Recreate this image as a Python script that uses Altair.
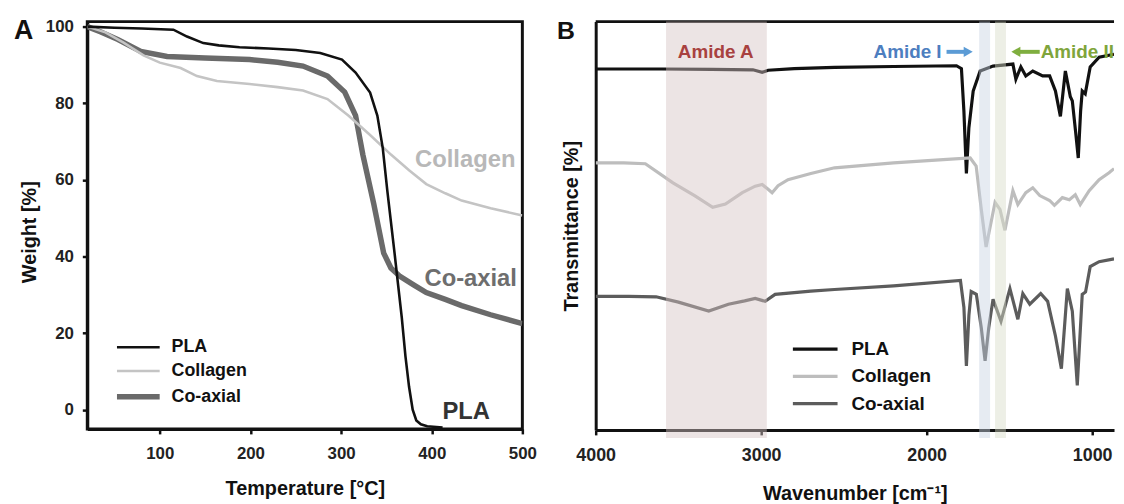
import altair as alt
import pandas as pd

FONT = "Liberation Sans"

# ---------------- Panel A : thermogravimetry ----------------
series = ["PLA", "Collagen", "Co-axial"]

temp_pla = [20, 50, 80, 115, 130, 148, 165, 188, 220, 250, 277, 301, 316, 332, 340, 346, 351, 359, 363,
            367, 371, 375, 379, 383, 388, 395, 412]
w_pla = [100, 99.7, 99.5, 99.2, 97.4, 95.7, 95.1, 94.6, 94.3, 93.9, 93.1, 91.4, 88.0, 82.8, 76.8, 68.3, 57.2,
         40.9, 32.4, 24.0, 14.0, 6.0, 0.0, -2.8, -3.8, -4.3, -4.6]

temp_col = [20, 40, 60, 82, 100, 123, 141, 163, 199, 230, 258, 285, 308, 332, 355, 375, 394, 415, 433, 465, 500]
w_col = [100, 98.5, 95.8, 92.5, 90.6, 89.2, 87.1, 85.8, 85.0, 84.2, 83.3, 81.1, 76.8, 71.7, 66.6, 62.5, 58.9,
         56.5, 54.6, 52.6, 50.7]

temp_cx = [20, 35, 54, 79, 108, 150, 199, 230, 258, 285, 304, 316, 324, 336, 347, 355, 365, 380, 394, 415, 433,
           465, 500]
w_cx = [100, 98.6, 96.6, 93.5, 92.2, 91.8, 91.4, 90.7, 89.7, 87.1, 82.9, 76.8, 66.6, 53.8, 40.9, 37.0, 34.8,
        32.6, 30.6, 28.8, 27.2, 24.8, 22.5]

a_ticks_x = [100, 200, 300, 400, 500]
a_ticks_y = [0, 20, 40, 60, 80, 100]

a_labels = ["Collagen", "Co-axial", "PLA"]
a_label_temp = [437, 443, 438]
a_label_w = [65.3, 34.0, -0.7]

# ---------------- Panel B : FTIR ----------------
wn_pla = [4000, 3600, 3300, 3050, 2994, 2958, 2800, 2557, 2200, 1820, 1790, 1775, 1760, 1745, 1719, 1677, 1599,
          1479, 1461, 1431, 1401, 1359, 1299, 1257, 1222, 1192, 1162, 1132, 1120, 1100, 1084, 1070, 1060, 1042,
          1012, 958, 868]
tr_pla = [88.4, 88.4, 88.3, 88.2, 87.6, 88.1, 88.5, 88.8, 89.0, 89.2, 88.5, 78.0, 62.8, 74.0, 83.0, 87.9, 89.1,
          89.6, 85.9, 88.9, 86.7, 87.9, 86.7, 86.7, 83.0, 76.8, 87.9, 81.6, 80.6, 73.0, 66.6, 78.0, 83.0, 82.3,
          88.9, 91.3, 92.0]

wn_col = [4000, 3830, 3700, 3533, 3400, 3293, 3216, 3114, 3036, 2994, 2960, 2934, 2898, 2838, 2700, 2557, 2200,
          1900, 1737, 1701, 1670, 1641, 1615, 1587, 1557, 1527, 1479, 1449, 1401, 1359, 1317, 1257, 1228, 1180,
          1138, 1102, 1072, 1018, 958, 898, 868]
tr_col = [65.4, 65.4, 65.2, 60.5, 57.3, 54.5, 55.3, 58.1, 59.7, 60.1, 59.0, 58.1, 59.8, 61.3, 62.8, 64.2, 65.4,
          66.2, 66.6, 64.6, 54.0, 44.8, 50.0, 55.7, 54.0, 48.9, 58.6, 55.2, 58.1, 59.3, 57.4, 56.2, 55.0, 56.9,
          56.4, 57.6, 55.2, 58.6, 61.3, 63.0, 64.0]

wn_cx = [4000, 3800, 3635, 3500, 3317, 3198, 3100, 3036, 2976, 2916, 2700, 2557, 2200, 1796, 1775, 1760, 1745,
         1731, 1700, 1670, 1647, 1625, 1599, 1551, 1497, 1449, 1419, 1377, 1311, 1269, 1222, 1186, 1150, 1120,
         1105, 1090, 1060, 1040, 1012, 958, 868]
tr_cx = [32.7, 32.7, 32.6, 31.3, 29.1, 30.8, 31.6, 32.2, 31.5, 33.2, 34.0, 34.4, 35.3, 36.6, 30.0, 15.7, 28.0,
         33.9, 33.2, 25.0, 16.9, 25.0, 32.0, 26.6, 34.6, 27.1, 33.4, 30.8, 33.4, 31.5, 23.0, 15.0, 34.6, 29.1,
         20.0, 10.9, 33.2, 33.8, 40.0, 41.2, 41.9]

b_ticks_x = [4000, 3000, 2000, 1000]

band_names = ["Amide A", "Amide I", "Amide II"]
band_start = [3575, 1683, 1587]
band_end = [2966, 1617, 1521]
band_colors = ["#d5c3c3", "#c8d3e2", "#d6dcc8"]

amide_y = 92.6
amideA_wn = 3275
amideI_wn = 1910
amideII_wn = 1311
arrowI_tail, arrowI_end, arrowI_head = 1880, 1766, 1749
arrowII_tail, arrowII_end, arrowII_head = 1317, 1443, 1461

# ---------------- build panel A ----------------
dfA = pd.concat([
    pd.DataFrame({"series": "Co-axial", "temp": temp_cx, "w": w_cx}),
    pd.DataFrame({"series": "Collagen", "temp": temp_col, "w": w_col}),
    pd.DataFrame({"series": "PLA", "temp": temp_pla, "w": w_pla}),
], ignore_index=True)

xA_scale = alt.Scale(domain=[20, 500], nice=False, zero=False)
yA_scale = alt.Scale(domain=[-5, 101.3], nice=False, zero=False)

legA = alt.Legend(title=None, orient="none", legendX=42.5, legendY=319.5, symbolType="M-4,0H4",
                  symbolSize=116, labelFontSize=18, labelFont=FONT, labelFontWeight="bold",
                  labelColor="#111111", labelOffset=24.5, rowPadding=6, padding=0)

linesA = alt.Chart(dfA).mark_line(clip=True).encode(
    x=alt.X("temp:Q", scale=xA_scale,
            axis=alt.Axis(values=a_ticks_x, title="Temperature [°C]", labelFontSize=17, format="d",
                          labelFlush=False, labelPadding=12, titleFontSize=20, titlePadding=17)),
    y=alt.Y("w:Q", scale=yA_scale,
            axis=alt.Axis(values=a_ticks_y, title="Weight [%]", labelFontSize=17, format="d",
                          labelFlush=False, labelPadding=9, titleFontSize=20, titlePadding=6, titleY=212)),
    color=alt.Color("series:N", scale=alt.Scale(domain=series, range=["#111111", "#c4c4c4", "#6a6a6a"]),
                    legend=legA),
    strokeWidth=alt.StrokeWidth("series:N",
                                scale=alt.Scale(type="ordinal", domain=series, range=[2.6, 2.6, 5.5]),
                                legend=legA),
)

label_colors_A = ["#b8b8b8", "#6e6e6e", "#333333"]
textsA = []
for lab, t, w, c in zip(a_labels, a_label_temp, a_label_w, label_colors_A):
    textsA.append(
        alt.Chart(pd.DataFrame({"label": [lab], "temp": [t], "w": [w]}))
        .mark_text(font=FONT, fontWeight="bold", fontSize=24, color=c, align="center", baseline="middle")
        .encode(x=alt.X("temp:Q", scale=xA_scale), y=alt.Y("w:Q", scale=yA_scale), text="label:N")
    )

letterA = alt.Chart(pd.DataFrame({"t": ["A"]})).mark_text(
    font=FONT, fontWeight="bold", fontSize=27, color="#111111", align="left", baseline="top"
).encode(x=alt.value(-74), y=alt.value(-3), text="t:N")

panelA = alt.layer(linesA, *textsA, letterA).properties(
    width=439, height=411, view=alt.ViewBackground(stroke="#111111", strokeWidth=3))

# ---------------- build panel B ----------------
dfB = pd.concat([
    pd.DataFrame({"series": "PLA", "wn": wn_pla, "tr": tr_pla}),
    pd.DataFrame({"series": "Collagen", "wn": wn_col, "tr": tr_col}),
    pd.DataFrame({"series": "Co-axial", "wn": wn_cx, "tr": tr_cx}),
], ignore_index=True)

xB_scale = alt.Scale(domain=[868, 4000], reverse=True, nice=False, zero=False)
yB_scale = alt.Scale(domain=[0, 100], nice=False, zero=False)

legB = alt.Legend(title=None, orient="none", legendX=212, legendY=321, symbolType="M-4,0H4",
                  symbolSize=127, symbolStrokeWidth=3.2, labelFontSize=19, labelFont=FONT,
                  labelFontWeight="bold", labelColor="#111111", labelOffset=27, rowPadding=7.5, padding=0)

dfBands = pd.DataFrame({"band": band_names, "start": band_start, "end": band_end})


def b_text(lab, wn, c, al):
    return (
        alt.Chart(pd.DataFrame({"label": [lab], "wn": [wn], "tr": [amide_y]}))
        .mark_text(font=FONT, fontWeight="bold", fontSize=19, color=c, align=al, baseline="middle")
        .encode(x=alt.X("wn:Q", scale=xB_scale), y=alt.Y("tr:Q", scale=yB_scale), text="label:N")
    )


textAmideA = b_text("Amide A", amideA_wn, "#a8413f", "center")
textAmideI = b_text("Amide I", amideI_wn, "#4d7ebf", "right")
textAmideII = b_text("Amide II", amideII_wn, "#7fa53c", "left")

arrows = []
for tail, end, head, c, shape in [(arrowI_tail, arrowI_end, arrowI_head, "#5b9bd5", "triangle-right"),
                                  (arrowII_tail, arrowII_end, arrowII_head, "#7fae3f", "triangle-left")]:
    d = pd.DataFrame({"a": [tail], "b": [end], "h": [head], "tr": [amide_y]})
    arrows.append(alt.Chart(d).mark_rule(color=c, strokeWidth=4).encode(
        x=alt.X("a:Q", scale=xB_scale), x2="b:Q", y=alt.Y("tr:Q", scale=yB_scale)))
    arrows.append(alt.Chart(d).mark_point(shape=shape, filled=True, color=c, size=110, opacity=1).encode(
        x=alt.X("h:Q", scale=xB_scale), y=alt.Y("tr:Q", scale=yB_scale)))

linesB = alt.Chart(dfB).mark_line(clip=True, strokeWidth=3.2).encode(
    x=alt.X("wn:Q", scale=xB_scale,
            axis=alt.Axis(values=b_ticks_x, title="Wavenumber [cm⁻¹]", labelFontSize=18, format="d",
                          labelFlush=False, labelPadding=12, titleFontSize=20, titlePadding=19)),
    y=alt.Y("tr:Q", scale=yB_scale,
            axis=alt.Axis(labels=False, ticks=False, title="Transmittance [%]", titleFontSize=20,
                          titlePadding=14)),
    color=alt.Color("series:N", scale=alt.Scale(domain=series, range=["#111111", "#bdbdbd", "#5c5c5c"]),
                    legend=legB),
)

bands = alt.Chart(dfBands).mark_rect(opacity=0.45).encode(
    x=alt.X("start:Q", scale=xB_scale),
    x2="end:Q",
    y=alt.datum(100),
    y2=alt.datum(-2),
    color=alt.Color("band:N", scale=alt.Scale(domain=band_names, range=band_colors), legend=None),
)

top_frame = alt.Chart(pd.DataFrame({"top": [100]})).mark_rule(color="#111111", strokeWidth=3).encode(
    y=alt.Y("top:Q", scale=yB_scale))

letterB = alt.Chart(pd.DataFrame({"t": ["B"]})).mark_text(
    font=FONT, fontWeight="bold", fontSize=25, color="#111111", align="left", baseline="top"
).encode(x=alt.value(-39), y=alt.value(-2), text="t:N")

panelB = alt.layer(linesB, textAmideI, textAmideII, *arrows, top_frame, bands, textAmideA,
                   letterB).resolve_scale(color="independent").properties(width=523, height=412)

chart = alt.hconcat(panelA, panelB, spacing=74, bounds="flush").properties(
    padding={"left": 4, "top": 5.5, "right": 0, "bottom": 0}
).configure_view(strokeWidth=0).configure_axis(
    grid=False, domainColor="#111111", domainWidth=3, tickColor="#111111", tickWidth=2.5, tickSize=5,
    labelFont=FONT, labelFontWeight="bold", labelColor="#222222",
    titleFont=FONT, titleFontWeight="bold", titleColor="#111111"
)

chart.save("out.html", embed_options={"renderer": "svg", "actions": False})
